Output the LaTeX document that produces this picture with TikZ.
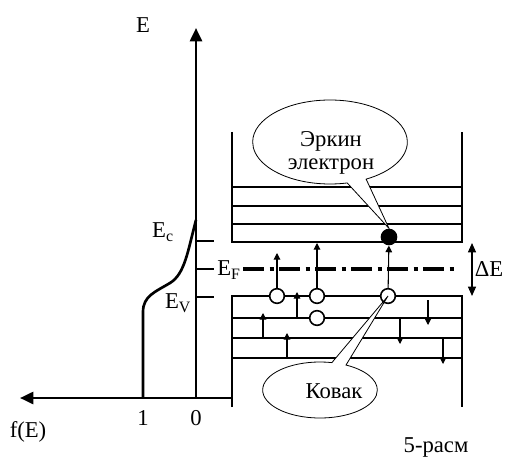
\documentclass[tikz,border=0pt]{standalone}
\usepackage{fontspec}
\setmainfont{Liberation Serif}
\usetikzlibrary{arrows.meta,positioning,shapes.geometric,shapes.callouts,calc}

\begin{document}
\begin{tikzpicture}[x=0.75pt, y=-0.75pt, every node/.style={font=\fontsize{17}{19}\selectfont}]
\tikzset{axis/.style={line width=2pt, -{Triangle[length=10pt, width=9pt]}}}
\tikzset{band/.style={line width=1.5pt}}
\tikzset{jump/.style={line width=0.8pt, -{Triangle[length=5pt, width=5pt]}}}
\tikzset{hole/.style={circle, draw, line width=1.2pt, fill=white, minimum size=11pt, inner sep=0pt}}
\tikzset{electron/.style={circle, fill=black, minimum size=12.5pt, inner sep=0pt}}
\tikzset{note/.style={ellipse callout, draw, fill=white, line width=0.6pt, inner sep=0pt}}
\useasboundingbox (0,0) rectangle (505,459);
% axes and f(E)
\coordinate (O) at (196,398);
\draw[axis] (O) -- (196,28);
\draw[axis] (232,398) -- (20,398);
\draw[line width=2pt] (196,220) .. controls (188,250) and (185,274) .. (170,283) .. controls (155,292) and (143,296) .. (143,312) -- (143,398);
\draw[line width=1pt] (196,241) -- (214,241);
\draw[line width=1pt] (196,269) -- (214,269);
\draw[line width=1pt] (196,297) -- (214,297);
\node (Elab) at (143,25) {E};
\node (fE) at (28,432) {f(E)};
\node (one) at (143,418) {1};
\node (zero) at (196,418) {0};
\node (Ec) at (163,232) {E\textsubscript{c}};
\node (Ev) at (178,303) {E\textsubscript{V}};
\node (EF) at (229,270) {E\textsubscript{F}};
% conduction band
\draw[band] (232,132) -- (232,242) -- (462,242) -- (462,132);
\draw[band] (232,187) -- (462,187);
\draw[band] (232,206) -- (462,206);
\draw[band] (232,224) -- (462,224);
% valence band
\draw[band] (232,407) -- (232,296) -- (462,296) -- (462,407);
\draw[band] (232,318) -- (462,318);
\draw[band] (232,338) -- (462,338);
\draw[band] (232,358) -- (462,358);
% Fermi level and gap
\draw[line width=2.6pt, dash pattern=on 16pt off 4pt on 3pt off 4pt] (243,269) -- (456,269);
\draw[line width=0.8pt, {Triangle[length=7pt,width=6pt]}-{Triangle[length=7pt,width=6pt]}] (472,243) -- (472,296);
\node (dE) at (489,269) {ΔE};
% electron and holes
\node[electron] (el) at (389,237) {};
\node[hole] (h1) at (277,296) {};
\node[hole] (h2) at (317,296) {};
\node[hole] (h3) at (388,296) {};
\node[hole] (h4) at (317,318) {};
\draw[jump] (h1) -- (277,253);
\draw[jump] (h2) -- (317,243);
\draw[jump] (h3) -- (el);
\draw[jump] (297,318) -- (297,292);
\draw[jump] (263,338) -- (263,313);
\draw[jump] (287,358) -- (287,333);
\draw[jump] (400,318) -- (400,344);
\draw[jump] (428,300) -- (428,325);
\draw[jump] (443,338) -- (443,364);
% callouts
\node[note, minimum width=116pt, minimum height=63pt, callout absolute pointer={(el.north)}] (free) at (330,142) {};
\node[align=center] (freetxt) at (331,153) {Эркин\\[-2pt]электрон};
\node[note, minimum width=86pt, minimum height=42pt, callout absolute pointer={(h3.center)}] (hole) at (320,390) {};
\node (holetxt) at (334,391) {Ковак};
\node (fig) at (436,447) {5-расм};
\end{tikzpicture}
\end{document}
